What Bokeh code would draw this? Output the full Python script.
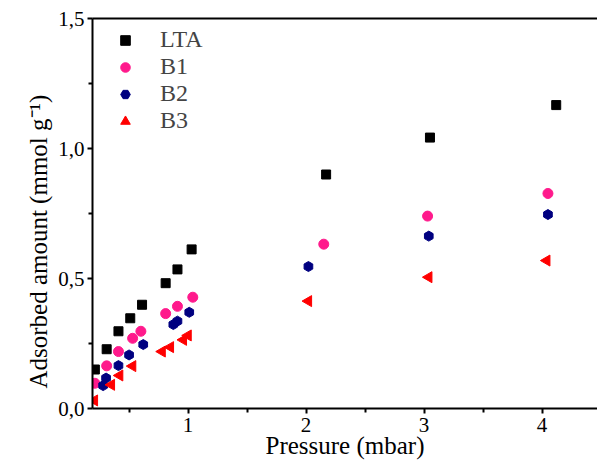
from bokeh.plotting import figure
from bokeh.embed import file_html
from bokeh.resources import INLINE
from bokeh.models import LinearAxis, FixedTicker, Range1d, Legend, LegendItem, ColumnDataSource

# Data
lta_x = [0.21, 0.31, 0.41, 0.51, 0.61, 0.81, 0.91, 1.03, 2.17, 3.05, 4.12]
lta_y = [0.150, 0.228, 0.297, 0.347, 0.399, 0.482, 0.535, 0.612, 0.900, 1.042, 1.167]

b1_x = [0.21, 0.31, 0.41, 0.53, 0.60, 0.81, 0.91, 1.04, 2.15, 3.03, 4.05]
b1_y = [0.097, 0.164, 0.219, 0.270, 0.297, 0.365, 0.393, 0.428, 0.632, 0.740, 0.827]

b2_x = [0.28, 0.305, 0.41, 0.50, 0.62, 0.875, 0.91, 1.01, 2.02, 3.04, 4.05]
b2_y = [0.088, 0.117, 0.165, 0.206, 0.246, 0.323, 0.336, 0.370, 0.546, 0.663, 0.746]

b3_x = [0.206, 0.35, 0.42, 0.53, 0.78, 0.85, 0.96, 1.00, 2.02, 3.04, 4.04]
b3_y = [0.031, 0.091, 0.127, 0.163, 0.219, 0.236, 0.264, 0.281, 0.413, 0.505, 0.569]

x_ticks = [1, 2, 3, 4]
x_tick_labels = ["1", "2", "3", "4"]
y_ticks = [0.0, 0.5, 1.0, 1.5]
y_tick_labels = ["0,0", "0,5", "1,0", "1,5"]

FONT = "Liberation Serif"
ROT = 1.5708

p = figure(width=597, height=468, output_backend="svg", toolbar_location=None,
           x_range=Range1d(0.19, 4.47), y_range=Range1d(0.0, 1.5),
           min_border_left=92, min_border_top=18, min_border_right=0, min_border_bottom=60)
p.xgrid.visible = False
p.ygrid.visible = False
p.outline_line_color = None
p.background_fill_color = "white"
p.border_fill_color = "white"

src2 = ColumnDataSource(dict(x=b2_x, y=b2_y, a=[ROT] * len(b2_x)))
src3 = ColumnDataSource(dict(x=b3_x, y=b3_y, a=[ROT] * len(b3_x)))

r1 = p.scatter(lta_x, lta_y, marker="square", size=9, color="black")
r2 = p.scatter(b1_x, b1_y, marker="circle", size=10, color="#FF1A8C")
r3 = p.scatter("x", "y", source=src2, marker="hex", size=10, color="#000080", angle="a")
r4 = p.scatter("x", "y", source=src3, marker="triangle", size=11, color="#FF0000", angle="a")

for ax in (p.xaxis[0], p.yaxis[0]):
    ax.axis_line_width = 2
    ax.major_tick_line_width = 2
    ax.minor_tick_line_width = 2
    ax.major_tick_out = 5
    ax.major_tick_in = 0
    ax.minor_tick_out = 4
    ax.minor_tick_in = 0
    ax.major_label_text_font = FONT
    ax.major_label_text_font_size = "21px"
    ax.major_label_text_color = "black"
    ax.axis_label_text_font = FONT
    ax.axis_label_text_font_size = "25px"
    ax.axis_label_text_font_style = "normal"
    ax.axis_label_text_color = "black"

p.xaxis[0].ticker = FixedTicker(ticks=x_ticks, minor_ticks=[0.5, 1.5, 2.5, 3.5, 4.5])
p.xaxis[0].major_label_overrides = dict(zip(x_ticks, x_tick_labels))
p.xaxis[0].axis_label = "Pressure (mbar)"
p.xaxis[0].axis_label_standoff = -3
p.xaxis[0].major_label_standoff = 4

p.yaxis[0].ticker = FixedTicker(ticks=y_ticks, minor_ticks=[0.25, 0.75, 1.25])
p.yaxis[0].major_label_overrides = dict(zip(y_ticks, y_tick_labels))
p.yaxis[0].axis_label = "Adsorbed amount (mmol g\u207b\u00b9)" + "\u00a0" * 9
p.yaxis[0].axis_label_standoff = 3
p.yaxis[0].major_label_standoff = 3

top = LinearAxis(axis_line_width=2, major_tick_line_color=None, minor_tick_line_color=None,
                 major_label_text_font_size="0px", major_label_text_color=None)
p.add_layout(top, "above")

legend = Legend(items=[LegendItem(label="LTA", renderers=[r1]),
                       LegendItem(label="B1", renderers=[r2]),
                       LegendItem(label="B2", renderers=[r3], index=0),
                       LegendItem(label="B3", renderers=[r4], index=0)],
                location="top_left", border_line_color=None, background_fill_alpha=0,
                label_text_font=FONT, label_text_font_size="24px",
                label_standoff=10, spacing=0, glyph_height=24, glyph_width=50,
                margin=8, padding=5)
p.add_layout(legend)

open("out.html", "w").write(file_html(p, INLINE))
